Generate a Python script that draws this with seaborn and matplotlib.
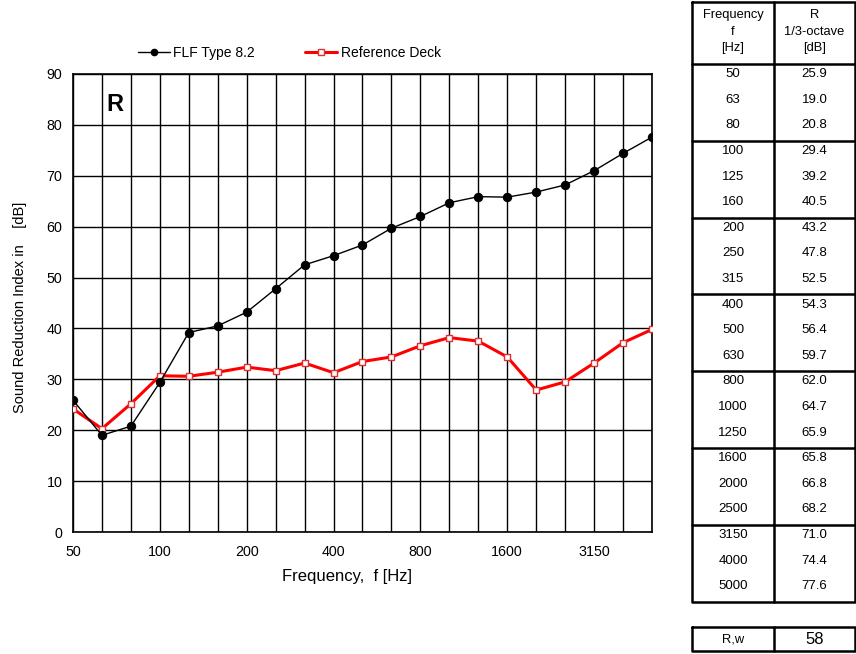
import numpy as np
import pandas as pd
import matplotlib
matplotlib.use("Agg")
import matplotlib.pyplot as plt
from matplotlib.lines import Line2D
import seaborn as sns

# One-third-octave band centre frequencies [Hz]
freqs = [50, 63, 80, 100, 125, 160, 200, 250, 315, 400, 500, 630,
         800, 1000, 1250, 1600, 2000, 2500, 3150, 4000, 5000]
# Measured sound reduction index, FLF Type 8.2 [dB]
r_flf = [25.9, 19.0, 20.8, 29.4, 39.2, 40.5, 43.2, 47.8, 52.5, 54.3, 56.4,
         59.7, 62.0, 64.7, 65.9, 65.8, 66.8, 68.2, 71.0, 74.4, 77.6]
# Reference deck curve [dB]
r_ref = [24.2, 20.3, 25.2, 30.7, 30.6, 31.4, 32.4, 31.7, 33.2, 31.3, 33.5,
         34.4, 36.6, 38.2, 37.5, 34.4, 27.9, 29.5, 33.2, 37.2, 39.8]
tick_labels = ["50", "100", "200", "400", "800", "1600", "3150"]
rw_value = 58

sns.set_theme(style="white")
plt.rcParams["font.family"] = ["Liberation Sans", "DejaVu Sans"]
plt.rcParams["text.color"] = "black"

W, H = 856, 654
fig = plt.figure(figsize=(W / 100, H / 100), dpi=100)

# main chart area (pixel box: left 73, right 652, top 74, bottom 532)
L, R_, T, B = 73, 652, 74, 532
ax = fig.add_axes([L / W, 1 - B / H, (R_ - L) / W, (B - T) / H])

idx = np.arange(len(freqs))
df = pd.DataFrame({"pos": np.concatenate([idx, idx]),
                   "R": r_flf + r_ref,
                   "series": ["FLF Type 8.2"] * len(freqs) + ["Reference Deck"] * len(freqs)})

flf_style = dict(color="black", linewidth=1.0, marker="o", markersize=6,
                 markerfacecolor="black", markeredgecolor="black")
ref_style = dict(color="#ff0000", linewidth=2.2, marker="s", markersize=4.8,
                 markerfacecolor="white", markeredgecolor="#e03030", markeredgewidth=1.0)

sns.lineplot(data=df[df.series == "FLF Type 8.2"], x="pos", y="R", ax=ax,
             legend=False, zorder=4, **flf_style)
sns.lineplot(data=df[df.series == "Reference Deck"], x="pos", y="R", ax=ax,
             legend=False, zorder=3, **ref_style)

ax.set_xlim(0, len(freqs) - 1)
ax.set_ylim(0, 90)
ax.set_yticks(np.arange(0, 91, 10))
ax.set_xticks(idx, minor=True)
ax.set_xticks(idx[::3][:len(tick_labels)])
ax.set_xticklabels(tick_labels)
ax.grid(True, which="both", axis="x", color="black", linewidth=1.0)
ax.grid(True, which="major", axis="y", color="black", linewidth=1.0)
ax.set_axisbelow(True)
for s in ax.spines.values():
    s.set_color("black")
    s.set_linewidth(1.2)
ax.tick_params(axis="both", which="both", length=0, labelsize=10.3, colors="black")
ax.tick_params(axis="x", pad=9)
ax.tick_params(axis="y", pad=7.5)
ax.set_xlabel("Frequency,  f [Hz]", fontsize=12, color="black")
ax.xaxis.set_label_coords((347 - L) / (R_ - L), -(569 - B) / (B - T))
ax.set_ylabel("Sound Reduction Index in    [dB]", fontsize=10.5, color="black")
ax.yaxis.set_label_coords(-(L - 27) / (R_ - L), 0.49)
ax.text(1.45, 84, "R", fontsize=17, fontweight="bold", ha="center", va="center",
        color="black")

# legend with small markers, above the chart
handles = [
    Line2D([], [], color="black", linewidth=1.0, marker="o", markersize=4.5,
           markerfacecolor="black"),
    Line2D([], [], color="#ff0000", linewidth=2.2, marker="s", markersize=4.5,
           markerfacecolor="white", markeredgecolor="#e03030", markeredgewidth=1.0),
]
fig.legend(handles, ["FLF Type 8.2", "Reference Deck"], loc="center left",
           bbox_to_anchor=(138 / W, 1 - 53 / H), ncol=2, frameon=False,
           fontsize=10, handlelength=2.3, columnspacing=3.6, handletextpad=0.25,
           borderpad=0, borderaxespad=0)

# frequency / R table on the right
tx = fig.add_axes([0, 0, 1, 1])
tx.set_xlim(0, W)
tx.set_ylim(H, 0)
tx.axis("off")
x0, xm, x1 = 692, 774, 855
top, head_b, row_h = 2, 64, 25.6
bottom = head_b + row_h * len(freqs)
lw_thick = 1.8
tx.plot([x0, x1, x1, x0, x0], [top, top, bottom, bottom, top], color="black", lw=lw_thick)
tx.plot([xm, xm], [top, bottom], color="black", lw=lw_thick)
tx.plot([x0, x1], [head_b, head_b], color="black", lw=lw_thick)
for g in range(1, len(freqs) // 3):
    yy = head_b + g * 3 * row_h
    tx.plot([x0, x1], [yy, yy], color="black", lw=lw_thick)

cl, cr = (x0 + xm) / 2, (xm + x1) / 2
for txt, yy in zip(["Frequency", "f", "[Hz]"], [15, 32, 48]):
    tx.text(cl, yy, txt, ha="center", va="center", fontsize=9.3)
for txt, yy in zip(["R", "1/3-octave", "[dB]"], [15, 32, 48]):
    tx.text(cr, yy, txt, ha="center", va="center", fontsize=9.3)
for i, (f, r) in enumerate(zip(freqs, r_flf)):
    yy = head_b + (i + 0.4) * row_h
    tx.text(cl, yy, f"{f}", ha="center", va="center", fontsize=9.5)
    tx.text(cr, yy, f"{r:.1f}", ha="center", va="center", fontsize=9.5)

rb_t, rb_b = 627, 651
tx.plot([x0, x1, x1, x0, x0], [rb_t, rb_t, rb_b, rb_b, rb_t], color="black", lw=lw_thick)
tx.plot([xm, xm], [rb_t, rb_b], color="black", lw=lw_thick)
tx.text(cl, (rb_t + rb_b) / 2, "R,w", ha="center", va="center", fontsize=9.3)
tx.text(cr, (rb_t + rb_b) / 2 + 1, f"{rw_value}", ha="center", va="center", fontsize=12)

fig.savefig("out.png", dpi=100, facecolor="white")
